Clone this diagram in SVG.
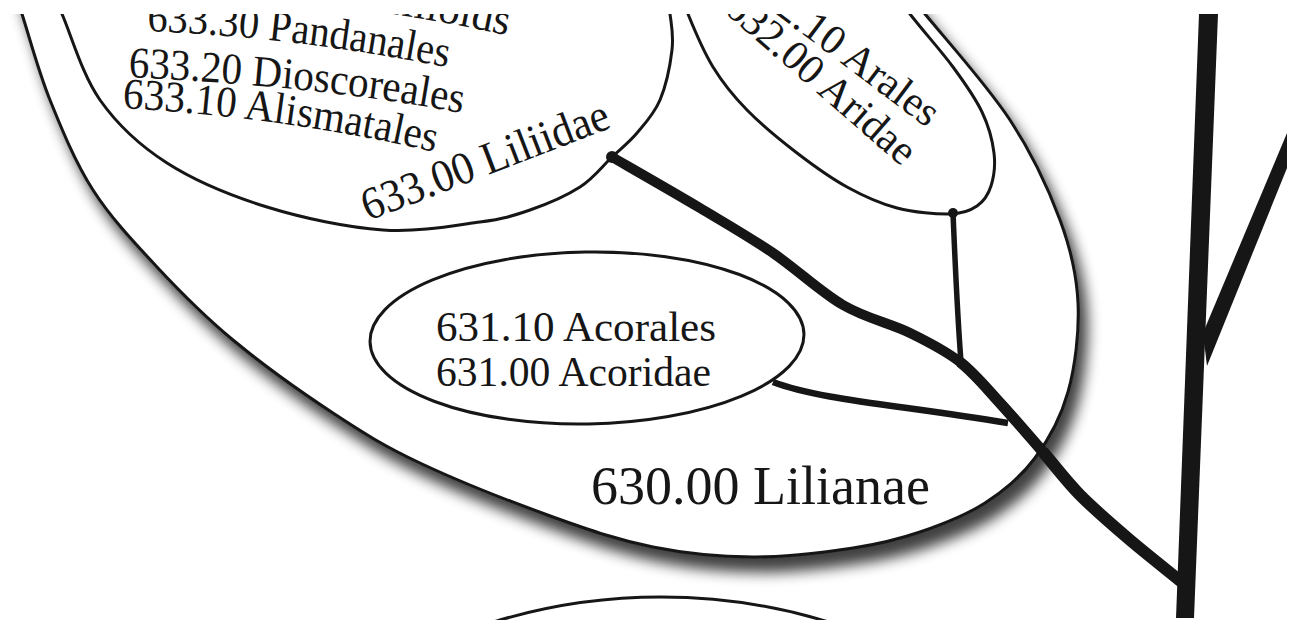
<svg xmlns="http://www.w3.org/2000/svg" width="1294" height="624" viewBox="0 0 1294 624">
<style>
.shape{fill:#fff;stroke:#161616;stroke-width:3}
.ln{fill:none;stroke:#161616}
.solid{fill:#161616;stroke:none}
.t{font-family:"Liberation Serif","Times New Roman",serif;fill:#161616}
</style>
<defs>
<clipPath id="crop"><rect x="0" y="14" width="1287" height="606"/></clipPath>
<filter id="shadow" x="-10%" y="-10%" width="130%" height="130%">
<feGaussianBlur in="SourceAlpha" stdDeviation="7"/>
<feOffset dx="8" dy="14"/>
<feComponentTransfer><feFuncA type="linear" slope="0.75"/></feComponentTransfer>
<feMerge><feMergeNode/><feMergeNode in="SourceGraphic"/></feMerge>
</filter>
<linearGradient id="fade" x1="0" y1="0" x2="0" y2="1">
<stop offset="0" stop-color="#222" stop-opacity="0"/>
<stop offset="0.5" stop-color="#222" stop-opacity="0.8"/>
<stop offset="1" stop-color="#222" stop-opacity="0.9"/>
</linearGradient>
<path id="p4" d="M246,0 Q380,6 514,37"/>
<path id="p3" d="M147,31 Q295.75,36.95 448,67.5"/>
<path id="p2" d="M128,77 Q332,87.2 463,113.5"/>
<path id="p1" d="M122,108 Q293.6,118.3 436,152.5"/>
</defs>
<g clip-path="url(#crop)">
<g id="lilianae">
<path class="shape" filter="url(#shadow)" d="M5,-40 L22,14 C29.5,37.3 38.2,70.7 50,100 C61.8,129.3 75.2,162.2 93,190 C110.8,217.8 133.7,242 157,267 C180.3,292 203.7,315.7 233,340 C262.3,364.3 301.8,392.5 333,413 C364.2,433.5 383.3,445.7 420,463 C456.7,480.3 514.2,503 553,517 C591.8,531 619.7,540.3 653,547 C686.3,553.7 719.7,556.8 753,557 C786.3,557.2 825.2,552.2 853,548 C880.8,543.8 898,539.5 920,532 C942,524.5 965.8,515.3 985,503 C1004.2,490.7 1021.2,476.5 1035,458 C1048.8,439.5 1060.8,417.8 1068,392 C1075.2,366.2 1079.3,331.7 1078,303 C1076.7,274.3 1071.3,250.5 1060,220 C1048.7,189.5 1032.5,154.3 1010,120 C987.5,85.7 948.3,42.3 925,14 L870,-60 L0,-60 Z"/>
<text class="t" x="591" y="504" font-size="54" textLength="339" lengthAdjust="spacingAndGlyphs">630.00 Lilianae</text>
</g>
<g id="liliidae">
<path class="shape" d="M40,-40 L62,14 C72,37.3 82.5,75.2 100,100 C117.5,124.8 139.2,145.2 167,163 C194.8,180.8 231,195.8 267,207 C303,218.2 347.5,227.5 383,230 C418.5,232.5 455.5,225.3 480,222 C504.5,218.7 513.3,215.8 530,210 C546.7,204.2 566.3,195.8 580,187 C593.7,178.2 602.5,166 612,157 C621.5,148 629,142.5 637,133 C645,123.5 654.2,113.8 660,100 C665.8,86.2 670.3,64.3 672,50 C673.7,35.7 672,29 670,14 L660,-40 Z"/>
<text class="t" font-size="44"><textPath href="#p4" textLength="264" lengthAdjust="spacingAndGlyphs">633.40 Lilioids</textPath></text>
<text class="t" font-size="44"><textPath href="#p3" textLength="303" lengthAdjust="spacingAndGlyphs">633.30 Pandanales</textPath></text>
<text class="t" font-size="44"><textPath href="#p2" textLength="336" lengthAdjust="spacingAndGlyphs">633.20 Dioscoreales</textPath></text>
<text class="t" font-size="44"><textPath href="#p1" textLength="316" lengthAdjust="spacingAndGlyphs">633.10 Alismatales</textPath></text>
<text class="t" font-size="46" transform="translate(368,221) rotate(-21)" textLength="262" lengthAdjust="spacingAndGlyphs">633.00 Liliidae</text>
</g>
<g id="aridae">
<path class="shape" d="M670,-40 L688,14 C695.2,31.8 703.2,51 713,67 C722.8,83 733,95.7 747,110 C761,124.3 780.3,140.2 797,153 C813.7,165.8 830.3,177.8 847,187 C863.7,196.2 879.8,203.5 897,208 C914.2,212.5 936.7,214.3 950,214 C963.3,213.7 970.2,210.7 977,206 C983.8,201.3 988.2,194.8 991,186 C993.8,177.2 995.5,165.3 994,153 C992.5,140.7 988.8,126.3 982,112 C975.2,97.7 965,83.3 953,67 C941,50.7 923.8,31.8 910,14 L870,-40 Z"/>
<text class="t" font-size="42" text-anchor="end" transform="translate(927,128) rotate(37)">632.10 Arales</text>
<text class="t" font-size="42" text-anchor="end" transform="translate(902,167) rotate(41)">632.00 Aridae</text>
</g>
<g id="acoridae">
<ellipse class="shape" cx="587" cy="338" rx="217" ry="86" transform="rotate(-1 587 338)"/>
<text class="t" font-size="43" x="436" y="341" textLength="280" lengthAdjust="spacingAndGlyphs">631.10 Acorales</text>
<text class="t" font-size="43" x="436" y="386" textLength="275" lengthAdjust="spacingAndGlyphs">631.00 Acoridae</text>
</g>
<g id="lower-node">
<ellipse class="shape" cx="661" cy="945" rx="450" ry="348"/>
</g>
<g id="connectors">
<path class="ln" stroke-width="10" d="M612,157 C626.7,165.5 673.2,192 700,208 C726.8,224 749.2,236.8 773,253 C796.8,269.2 820.2,291.7 843,305 C865.8,318.3 890.5,323.5 910,333 C929.5,342.5 945,350.3 960,362 C975,373.7 986.2,388 1000,403 C1013.8,418 1029.7,436.7 1043,452 C1056.3,467.3 1065.5,480.3 1080,495 C1094.5,509.7 1113,525.5 1130,540 C1147,554.5 1173.3,575 1184,584"/>
<path class="ln" stroke-width="11" d="M960,362 C975,373.7 986.2,388 1000,403 C1013.8,418 1029.7,436.7 1043,452"/>
<path class="ln" stroke-width="12" d="M1043,452 C1056.3,467.3 1065.5,480.3 1080,495 C1094.5,509.7 1113,525.5 1130,540 C1147,554.5 1173.3,575 1184,584"/>
<path class="ln" stroke-width="5.5" d="M953,213 C955,260 957,310 961,362"/>
<path class="ln" stroke-width="6.5" d="M773,382 C820,400 900,405 1008,423"/>
<circle class="solid" cx="612" cy="157" r="6"/>
<circle class="solid" cx="953" cy="213" r="5"/>
<polygon class="solid" points="1199,14 1218,14 1194,618 1176,618"/>
<polygon class="solid" points="1287,133 1287,168 1207,366 1203,333"/>
</g>
<line x1="1287" y1="540" x2="1287" y2="616" stroke="url(#fade)" stroke-width="2.5"/>
</g>
</svg>
